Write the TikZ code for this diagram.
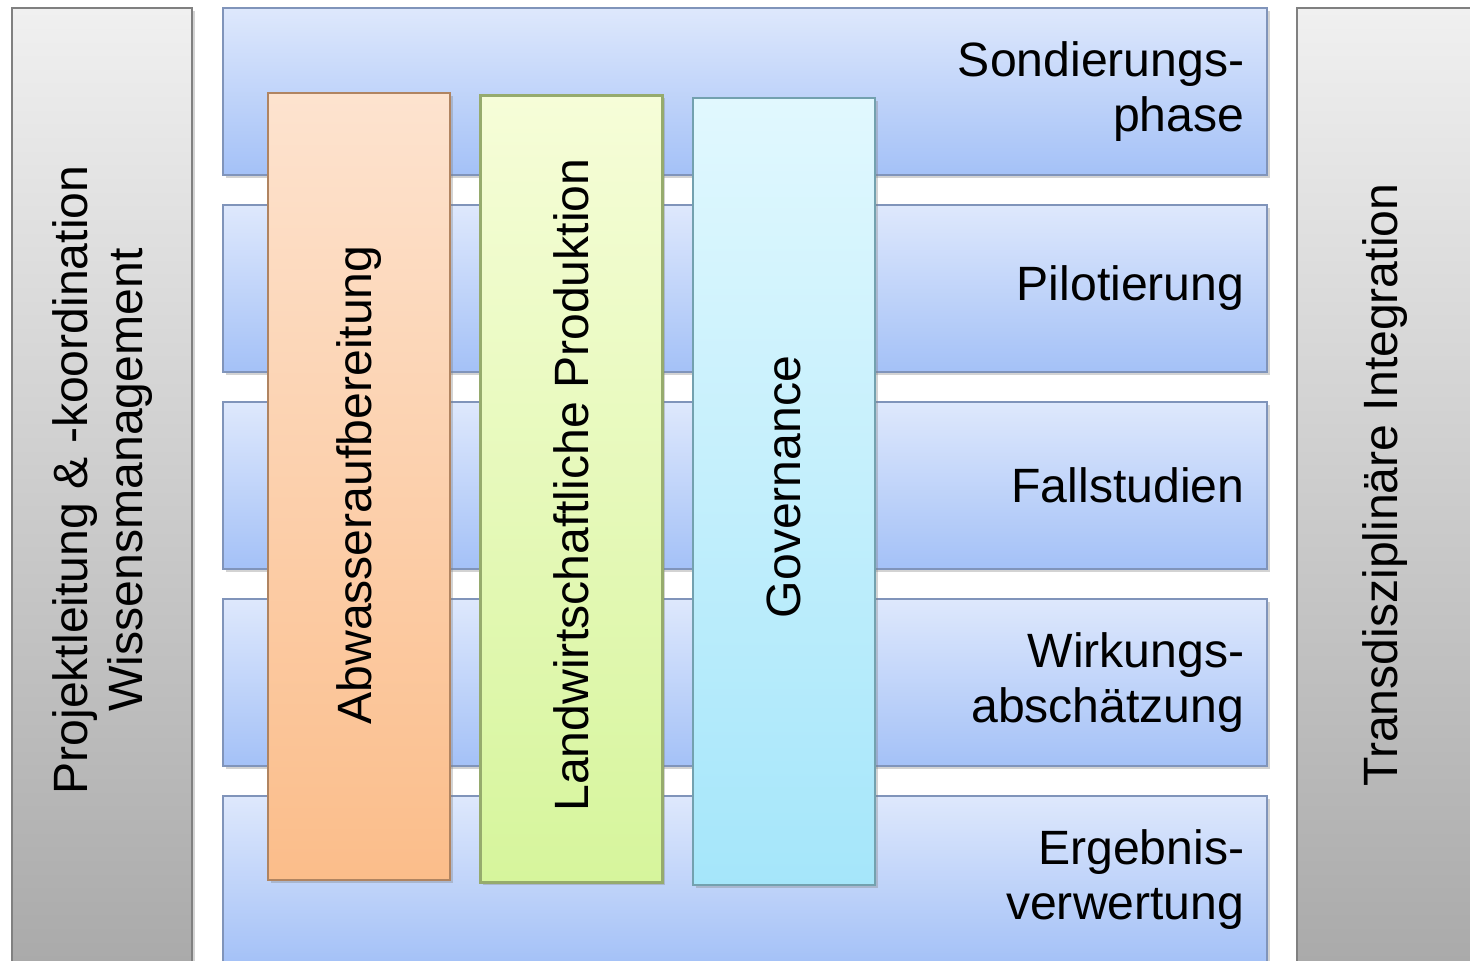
\documentclass[tikz,border=0pt]{standalone}
\usepackage{fontspec}
\setmainfont{Liberation Sans}
\usetikzlibrary{shadows}

\definecolor{rowtop}{RGB}{222,232,252}
\definecolor{rowbot}{RGB}{164,193,247}
\definecolor{rowline}{RGB}{128,148,186}
\definecolor{greytop}{RGB}{240,240,240}
\definecolor{greybot}{RGB}{168,168,168}
\definecolor{orangetop}{RGB}{253,227,207}
\definecolor{orangebot}{RGB}{251,189,138}
\definecolor{greentop}{RGB}{246,253,216}
\definecolor{greenbot}{RGB}{214,245,156}
\definecolor{cyantop}{RGB}{225,248,254}
\definecolor{cyanbot}{RGB}{165,230,250}

\tikzset{
    box/.style={line width=0.6pt, drop shadow={shadow xshift=0.8pt, shadow yshift=-0.8pt, opacity=0.35}},
    phase/.style={box, draw=rowline, top color=rowtop, bottom color=rowbot},
    side/.style={box, draw=gray, top color=greytop, bottom color=greybot},
    label/.style={font=\fontsize{13.7}{15.6}\selectfont, inner sep=0pt}
}

\begin{document}
\begin{tikzpicture}
    \useasboundingbox (0, 0) rectangle (14.7, 9.6);
    \clip (0, 0) rectangle (14.7, 9.6);

    % side boxes
    \shade[side] (0.12, 9.52) rectangle (1.92, -0.3);
    \shade[side] (12.97, 9.52) rectangle (15.2, -0.3);

    % phases
    \foreach \i in {0,...,4} {
        \shade[phase] (2.23, {9.52 - 1.97*\i}) rectangle (12.67, {7.85 - 1.97*\i});
    }

    % work packages
    \foreach \i/\c in {0/orange, 1/green, 2/cyan} {
        \shade[box, draw=\c bot!70!black, top color=\c top, bottom color=\c bot]
            ({2.68 + 2.125*\i}, {8.67 - 0.025*\i}) rectangle ({4.50 + 2.125*\i}, {0.80 - 0.025*\i});
    }

    \node[label, anchor=east, align=right] (sond) at (12.45, 8.685) {Sondierungs-\\phase};
    \node[label, anchor=east, align=right] (pilot) at (12.45, 6.715) {Pilotierung};
    \node[label, anchor=east, align=right] (fall) at (12.45, 4.745) {Fallstudien};
    \node[label, anchor=east, align=right] (wirk) at (12.45, 2.775) {Wirkungs-\\abschätzung};
    \node[label, anchor=east, align=right] (erg) at (12.45, 0.805) {Ergebnis-\\verwertung};

    \node[label, rotate=90, align=center] (lead) at (1.025, 4.8) {Projektleitung \& -koordination\\Wissensmanagement};
    \node[label, rotate=90] (trans) at (13.85, 4.75) {Transdisziplinäre Integration};

    \node[label, rotate=90] (abw) at (3.59, 4.75) {Abwasseraufbereitung};
    \node[label, rotate=90] (land) at (5.715, 4.75) {Landwirtschaftliche Produktion};
    \node[label, rotate=90] (gov) at (7.835, 4.73) {Governance};
\end{tikzpicture}
\end{document}
